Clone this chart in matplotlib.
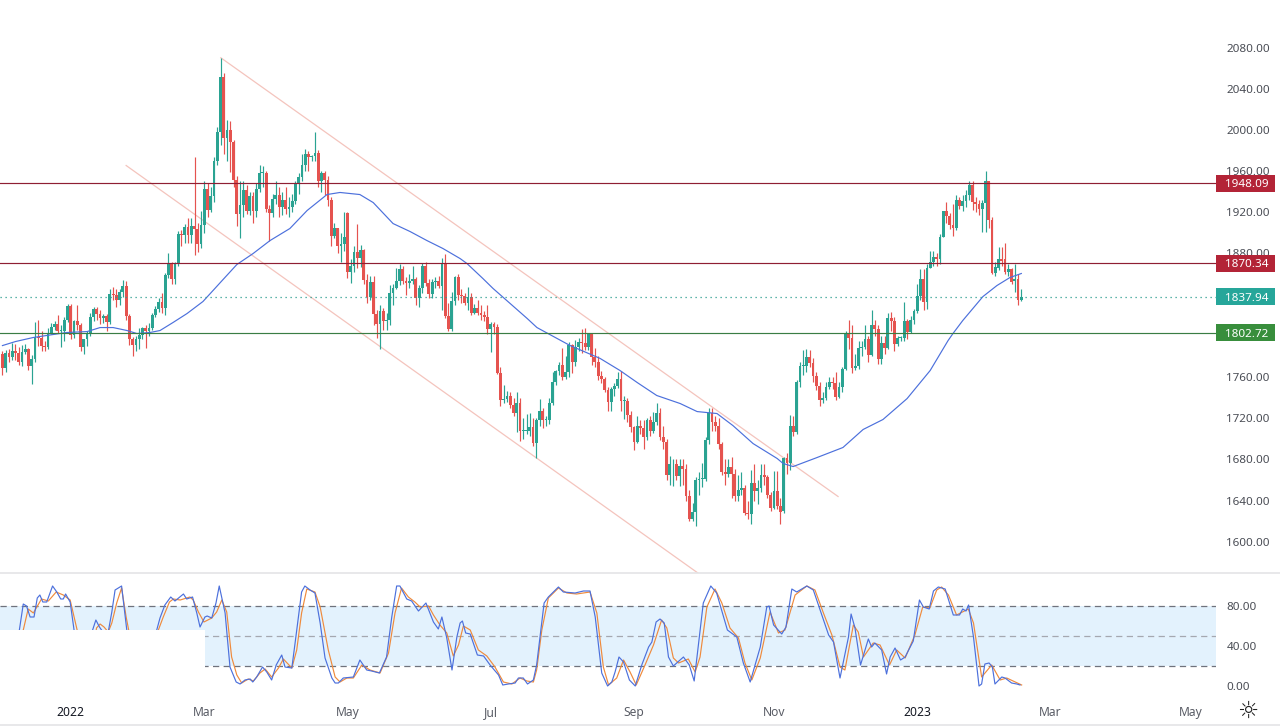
import matplotlib
matplotlib.use("Agg")
import matplotlib.pyplot as plt
from matplotlib.lines import Line2D
from matplotlib.patches import Rectangle

plt.rcParams["font.family"] = ["Noto Sans", "DejaVu Sans"]

# daily candles, Dec 2021 to Feb 2023
opens = [
    1782, 1769, 1783, 1779, 1785, 1783, 1775, 1784, 1787, 1771, 1777, 1799, 1798, 1790, 1789, 1803, 1809, 1811, 1805, 1805, 1815,
    1829, 1801, 1814, 1810, 1789, 1797, 1802, 1818, 1826, 1821, 1817, 1819, 1813, 1841, 1840, 1835, 1843, 1848, 1819, 1797, 1791,
    1797, 1801, 1808, 1805, 1808, 1820, 1826, 1833, 1827, 1859, 1870, 1855, 1870, 1899, 1898, 1906, 1898, 1907, 1904, 1889,
    1908, 1943, 1922, 1936, 1970, 1998, 2051, 1992, 2000, 1988, 1951, 1918, 1927, 1942, 1921, 1936, 1921, 1943, 1958, 1958, 1923, 1919, 1933,
    1937, 1925, 1932, 1923, 1925, 1931, 1947, 1954, 1966, 1977, 1974, 1975, 1978, 1950, 1958, 1951, 1932, 1897, 1905, 1887, 1889,
    1919, 1862, 1868, 1881, 1876, 1883, 1854, 1838, 1852, 1821, 1811, 1824, 1814, 1815, 1842, 1846, 1853, 1865, 1853, 1851, 1853, 1855,
    1837, 1846, 1868, 1851, 1841, 1852, 1853, 1848, 1871, 1819, 1807, 1834, 1857, 1840, 1839, 1832, 1838, 1822, 1827, 1822, 1820, 1818,
    1807, 1811, 1809, 1764, 1738, 1739, 1742, 1733, 1725, 1735, 1708, 1708, 1708, 1711, 1696, 1718, 1727, 1718, 1718, 1735, 1755,
    1766, 1772, 1760, 1765, 1791, 1775, 1789, 1794, 1793, 1789, 1802, 1779, 1775, 1761, 1758, 1747, 1736, 1748, 1751, 1758, 1737, 1737, 1723,
    1711, 1697, 1712, 1710, 1702, 1718, 1708, 1716, 1725, 1702, 1697, 1665, 1675, 1675, 1664, 1674, 1671, 1644, 1622, 1629, 1660, 1661,
    1661, 1699, 1725, 1716, 1712, 1695, 1668, 1666, 1673, 1666, 1644, 1650, 1652, 1628, 1627, 1657, 1649, 1652, 1665, 1663, 1645,
    1633, 1649, 1635, 1630, 1681, 1676, 1712, 1707, 1755, 1771, 1771, 1779, 1774, 1761, 1751, 1738, 1740, 1750, 1755, 1754, 1741, 1750,
    1768, 1803, 1798, 1769, 1771, 1788, 1789, 1797, 1781, 1810, 1807, 1777, 1793, 1788, 1817, 1814, 1792, 1798, 1798, 1814, 1804, 1815,
    1824, 1839, 1855, 1833, 1866, 1872, 1877, 1875, 1896, 1921, 1916, 1908, 1905, 1932, 1926, 1931, 1937, 1946, 1930, 1928, 1923,
    1929, 1950, 1912, 1861, 1866, 1875, 1875, 1862, 1865, 1853, 1855, 1835,
]
highs = [
    1785, 1786, 1787, 1793, 1792, 1789, 1791, 1792, 1788, 1781, 1813, 1815, 1805, 1795, 1808, 1812, 1814, 1820, 1810, 1818, 1831,
    1831, 1815, 1830, 1812, 1797, 1805, 1822, 1828, 1828, 1825, 1821, 1821, 1845, 1847, 1845, 1845, 1854, 1853, 1821, 1799, 1800,
    1808, 1809, 1810, 1812, 1822, 1829, 1837, 1842, 1861, 1880, 1872, 1872, 1902, 1903, 1909, 1914, 1914, 1974, 1910, 1921,
    1950, 1948, 1945, 1974, 2003, 2070, 2055, 2010, 2009, 1990, 1955, 1950, 1950, 1946, 1940, 1940, 1948, 1966, 1965, 1960, 1927, 1938, 1950,
    1945, 1940, 1945, 1935, 1938, 1950, 1958, 1977, 1981, 1979, 1976, 1998, 1980, 1960, 1960, 1955, 1935, 1910, 1905, 1900, 1920,
    1920, 1875, 1887, 1909, 1888, 1884, 1860, 1858, 1858, 1825, 1830, 1827, 1822, 1849, 1850, 1866, 1870, 1868, 1857, 1860, 1868, 1857,
    1849, 1871, 1872, 1855, 1855, 1857, 1858, 1876, 1879, 1832, 1843, 1858, 1860, 1845, 1842, 1847, 1842, 1831, 1835, 1830, 1824, 1830,
    1813, 1813, 1811, 1770, 1752, 1746, 1745, 1740, 1745, 1740, 1720, 1724, 1725, 1720, 1720, 1739, 1730, 1722, 1740, 1765, 1767,
    1775, 1788, 1780, 1794, 1792, 1796, 1798, 1807, 1808, 1802, 1802, 1788, 1780, 1766, 1760, 1750, 1750, 1754, 1765, 1766, 1742, 1740, 1727,
    1712, 1722, 1718, 1718, 1720, 1722, 1726, 1735, 1730, 1712, 1700, 1683, 1680, 1680, 1680, 1680, 1675, 1650, 1638, 1663, 1668, 1676,
    1702, 1730, 1730, 1722, 1720, 1697, 1680, 1680, 1682, 1671, 1665, 1668, 1655, 1640, 1670, 1675, 1660, 1675, 1675, 1665, 1648,
    1669, 1669, 1642, 1682, 1686, 1723, 1722, 1757, 1775, 1786, 1787, 1786, 1778, 1765, 1755, 1745, 1755, 1760, 1760, 1765, 1755, 1770,
    1805, 1815, 1810, 1782, 1795, 1795, 1810, 1800, 1825, 1815, 1810, 1800, 1800, 1822, 1823, 1818, 1800, 1800, 1833, 1816, 1819, 1826,
    1850, 1865, 1865, 1870, 1882, 1882, 1880, 1899, 1921, 1930, 1919, 1928, 1937, 1935, 1937, 1942, 1950, 1950, 1935, 1932, 1932,
    1960, 1950, 1915, 1872, 1886, 1886, 1890, 1870, 1866, 1870, 1860, 1845,
]
lows = [
    1762, 1765, 1775, 1776, 1776, 1772, 1771, 1782, 1767, 1753, 1775, 1790, 1785, 1785, 1787, 1802, 1806, 1803, 1789, 1795, 1813,
    1797, 1798, 1806, 1785, 1782, 1790, 1800, 1814, 1815, 1811, 1812, 1805, 1811, 1835, 1828, 1830, 1838, 1815, 1791, 1780, 1785,
    1787, 1797, 1788, 1800, 1806, 1818, 1823, 1822, 1820, 1856, 1850, 1850, 1868, 1887, 1890, 1890, 1890, 1878, 1881, 1885,
    1900, 1915, 1920, 1930, 1966, 1985, 1977, 1970, 1959, 1945, 1907, 1895, 1915, 1918, 1917, 1910, 1915, 1940, 1945, 1920, 1892, 1915, 1928,
    1915, 1917, 1918, 1915, 1920, 1928, 1938, 1950, 1960, 1960, 1970, 1970, 1945, 1940, 1937, 1926, 1887, 1895, 1880, 1872, 1882,
    1856, 1851, 1862, 1866, 1867, 1850, 1832, 1835, 1810, 1798, 1787, 1806, 1806, 1810, 1830, 1845, 1849, 1850, 1840, 1846, 1850, 1830,
    1828, 1842, 1848, 1837, 1837, 1846, 1846, 1825, 1817, 1805, 1805, 1830, 1835, 1832, 1830, 1825, 1820, 1821, 1820, 1815, 1814, 1802,
    1784, 1802, 1763, 1732, 1735, 1736, 1730, 1722, 1707, 1698, 1700, 1705, 1703, 1693, 1681, 1712, 1710, 1712, 1714, 1733, 1752,
    1762, 1757, 1758, 1760, 1764, 1771, 1785, 1783, 1786, 1786, 1772, 1770, 1757, 1754, 1745, 1727, 1727, 1742, 1749, 1727, 1719, 1716, 1707,
    1689, 1696, 1705, 1690, 1699, 1703, 1706, 1713, 1699, 1690, 1660, 1655, 1654, 1660, 1654, 1655, 1640, 1620, 1620, 1615, 1645, 1653,
    1659, 1695, 1708, 1708, 1690, 1665, 1655, 1663, 1642, 1640, 1640, 1645, 1626, 1622, 1617, 1640, 1637, 1648, 1655, 1642, 1630,
    1632, 1632, 1617, 1628, 1666, 1670, 1703, 1705, 1750, 1762, 1765, 1770, 1755, 1747, 1732, 1735, 1738, 1748, 1748, 1738, 1740, 1745,
    1767, 1787, 1764, 1767, 1768, 1780, 1787, 1775, 1780, 1800, 1773, 1773, 1782, 1787, 1805, 1785, 1790, 1795, 1795, 1797, 1803, 1811,
    1822, 1835, 1825, 1826, 1866, 1868, 1868, 1870, 1896, 1910, 1904, 1897, 1903, 1923, 1921, 1925, 1932, 1922, 1920, 1917, 1901,
    1901, 1905, 1860, 1858, 1864, 1868, 1860, 1858, 1850, 1843, 1830, 1834,
]
closes = [
    1769, 1783, 1779, 1785, 1783, 1775, 1784, 1787, 1771, 1777, 1799, 1798, 1790, 1789, 1803, 1809, 1811, 1805, 1805, 1815, 1829,
    1801, 1814, 1810, 1789, 1797, 1802, 1818, 1826, 1821, 1817, 1819, 1813, 1841, 1840, 1835, 1843, 1848, 1819, 1797, 1791, 1797,
    1801, 1808, 1805, 1808, 1820, 1826, 1833, 1827, 1859, 1870, 1855, 1870, 1899, 1898, 1906, 1898, 1907, 1904, 1889, 1908,
    1943, 1922, 1936, 1970, 1998, 2051, 1992, 2000, 1988, 1951, 1918, 1927, 1942, 1921, 1936, 1921, 1943, 1958, 1958, 1923, 1919, 1933, 1937,
    1925, 1932, 1923, 1925, 1931, 1947, 1954, 1966, 1977, 1974, 1975, 1978, 1950, 1958, 1951, 1932, 1897, 1905, 1887, 1889, 1896,
    1862, 1868, 1881, 1876, 1883, 1854, 1838, 1852, 1821, 1811, 1824, 1814, 1815, 1842, 1846, 1853, 1865, 1853, 1851, 1853, 1855, 1837,
    1846, 1868, 1851, 1841, 1852, 1853, 1848, 1871, 1819, 1807, 1834, 1857, 1840, 1839, 1832, 1838, 1822, 1827, 1822, 1820, 1818, 1807,
    1811, 1809, 1764, 1738, 1739, 1742, 1733, 1725, 1735, 1708, 1708, 1708, 1711, 1696, 1718, 1727, 1718, 1718, 1735, 1755, 1766,
    1772, 1760, 1765, 1791, 1775, 1789, 1794, 1793, 1789, 1802, 1779, 1775, 1761, 1758, 1747, 1736, 1748, 1751, 1758, 1737, 1737, 1723, 1711,
    1697, 1712, 1710, 1702, 1718, 1708, 1716, 1725, 1702, 1697, 1665, 1675, 1675, 1664, 1674, 1671, 1644, 1622, 1629, 1660, 1661, 1661,
    1699, 1725, 1716, 1712, 1695, 1668, 1666, 1673, 1666, 1644, 1650, 1652, 1628, 1627, 1657, 1649, 1652, 1665, 1663, 1645, 1633,
    1649, 1635, 1629, 1681, 1676, 1712, 1707, 1755, 1771, 1771, 1779, 1774, 1761, 1751, 1738, 1740, 1750, 1755, 1754, 1741, 1750, 1768,
    1803, 1798, 1769, 1771, 1788, 1789, 1797, 1781, 1810, 1807, 1777, 1793, 1788, 1817, 1814, 1792, 1798, 1798, 1814, 1804, 1815, 1824,
    1839, 1855, 1833, 1866, 1872, 1877, 1875, 1896, 1921, 1916, 1908, 1905, 1932, 1926, 1931, 1937, 1946, 1930, 1928, 1923, 1929,
    1950, 1912, 1861, 1867, 1875, 1873, 1862, 1865, 1852, 1855, 1835, 1837.94,
]

# moving average, read at its bends
ma_bars = [0, 4, 9.4, 15.5, 19.8, 26, 30, 34, 38.3, 41.3, 45.3, 48.4, 52.4, 56.7, 61.6, 64.7, 67.5, 72, 77, 82.2,
           88.3, 93.6, 99.7, 103.7, 109.8, 113.9, 120, 125.2, 130.4, 135.3, 140.6, 142.7, 147.6, 150.7, 161.2, 164.2,
           174.4, 183.6, 189.7, 195, 201, 208.2, 213.4, 219.5, 224.4, 230.6, 238, 239.8, 242.9, 250.2, 258.2, 264.4,
           270.5, 277.9, 285, 290.5, 292, 295, 301.2, 305.5, 309.5, 313]
ma_values = [1790.5, 1794.4, 1798.3, 1801.2, 1803.2, 1804.1, 1808, 1808, 1805.1, 1802.2, 1803.2, 1805.1, 1812.9, 1821.6, 1833.3, 1844, 1853.7, 1869.2, 1879.9, 1892.5,
             1904.2, 1921.7, 1937.2, 1939.2, 1937.2, 1929.4, 1909, 1901.3, 1892.5, 1884.8, 1875, 1870.2, 1855.6, 1846, 1816.8, 1808,
             1790.5, 1778, 1766.3, 1754.6, 1742, 1734.2, 1726.4, 1724.5, 1712.8, 1695.3, 1680.8, 1676, 1673, 1681.7, 1691.5, 1709,
             1718.7, 1739, 1766.3, 1795.4, 1802.2, 1814.8, 1838.1, 1848.8, 1856.6, 1860.5]

# stochastic %K and %D, read at their bends
k_bars = [0, 5.2, 6.4, 7.4, 8.5, 9.7, 10.7, 11.5, 12.4, 13.6, 15.4, 16.7, 17.9, 18.7, 19.4, 20.8, 22, 23.3, 26.9, 27.7,
          28.7, 29.8, 31.5, 32.5, 33.6, 34.6, 36.6, 38.2, 39.7, 45.3, 47.4, 48.4, 49.9, 51.7, 53, 55.6, 56.6, 58.4, 59.7, 60.7,
          62.2, 62.9, 64.3, 65.6, 66.6, 68.4, 69.9, 71.8, 73, 74.5, 76.1, 76.9, 78.1, 79.9, 81.2, 82.7, 84.1, 85.8, 86.8, 88.9,
          89.9, 91.9, 92.9, 94.5, 96, 97.6, 99.1, 101.2, 102.2, 103.2, 104.7, 107.8, 109.8, 111.9, 113.4, 115.8, 118, 119.6, 121.1, 122.1,
          124.2, 125.7, 127.8, 130.1, 132.4, 133.9, 135, 136.5, 138.1, 139.6, 140.6, 141.3, 142.3, 143.7, 145.9, 147.8, 149.8, 152.4, 153.7, 155.4,
          157.5, 158.5, 160, 161.3, 163.1, 164.1, 166.4, 167.7, 170.8, 172.3, 175.9, 178.5, 180.5, 182.1, 184.1, 185.9, 187.2, 188.2, 189.4, 190.8,
          192.6, 194.4, 196.4, 198.5, 199.5, 200.8, 202, 203.3, 204.6, 206.1, 209.2, 211, 212.5, 215.3, 217.6, 219.4, 222.7, 225.6, 227.6, 229.7,
          232.8, 234.8, 235.5, 236.9, 239.4, 240.7, 242.5, 244, 247.1, 249.1, 251.2, 253.8, 255.3, 257.3, 259.9, 260.7, 261.9, 263.6, 266, 267,
          268, 270.1, 271.6, 272.7, 274.2, 275.9, 277.3, 279.8, 281.7, 282.9, 284.7, 286, 287.5, 289.6, 292.1, 294, 295, 296, 296.8, 298.3,
          300, 300.8, 301.8, 303.1, 304.1, 304.9, 307, 308, 310, 311.6, 312.6]
k_values = [29, 56, 82, 80, 69, 69, 88, 91, 84, 84, 100, 94, 87, 87, 92, 84, 56, 29, 29, 56,
            66, 59, 51, 54, 74, 96, 100, 56, 19, 19, 56, 68, 81, 89, 85, 92, 87, 89, 73, 59,
            69, 70, 68, 83, 100, 73, 19, 4, 2, 6, 7, 4, 9, 19, 14, 6, 21, 31, 19, 18,
            43, 94, 100, 96, 93, 63, 28, 8, 3, 3, 8, 9, 26, 16, 15, 13, 29, 69, 100, 100,
            87, 85, 75, 83, 64, 57, 69, 48, 16, 49, 63, 65, 53, 52, 31, 30, 21, 11, 1, 2,
            3, 8, 8, 2, 6, 21, 83, 89, 99, 94, 93, 95, 95, 69, 13, 0, 4, 14, 29, 24,
            6, 0, 21, 39, 44, 64, 67, 63, 29, 20, 29, 21, 5, 83, 100, 93, 56, 49, 23, 4,
            39, 79, 80, 61, 52, 59, 97, 94, 100, 96, 76, 51, 44, 8, 49, 72, 58, 21, 47, 39,
            43, 36, 12, 29, 38, 26, 29, 45, 86, 79, 77, 95, 99, 97, 71, 71, 77, 75, 81, 49,
            0, 2, 22, 23, 19, 2, 9, 8, 3, 2, 1]
d_bars = [0, 6.4, 7.9, 9.5, 12, 14.1, 16.5, 18.7, 20.8, 22, 23.3, 24.9, 27.9, 28.9, 30, 31.2, 32.5, 33.6, 35.1, 36.6,
          38, 39.2, 40.2, 46.4, 47.9, 49.4, 51.3, 52.5, 54.6, 57.6, 58.6, 60.2, 61.9, 64.3, 65.8, 67.4, 68.9, 70.4, 72, 73.5,
          75.5, 77.1, 79.1, 80.7, 82.7, 84.8, 86.3, 88.9, 90.4, 91.9, 93.5, 96, 97.6, 100.1, 102.2, 103.7, 105.8, 107.8, 110.4, 112.9,
          116, 118.6, 120.6, 122.6, 124.7, 126.7, 128.3, 130.9, 132.4, 134.4, 136.5, 138.5, 140.1, 141.6, 143.7, 146.2, 148.8, 151.3, 153.9, 156.5,
          159, 161.1, 163.1, 164.1, 165.7, 167.7, 170.8, 173.4, 176.4, 180.5, 182.6, 184.6, 186.2, 188.7, 190.8, 192.8, 194.7, 197.4, 200, 202.5,
          204.1, 206.1, 207.7, 210.7, 212.8, 214.3, 216.4, 218.9, 221, 223.5, 226.1, 228.1, 230.2, 232.8, 235.8, 238.4, 240.4, 243.5, 247.1, 249.6,
          252.2, 254.8, 257.3, 258.8, 261.4, 262.9, 264.5, 267.5, 269.6, 272.5, 274.7, 277.3, 280.3, 282.7, 284.9, 287, 288.5, 290.6, 293.1, 296.7,
          298.3, 300.8, 303.9, 306.5, 308.5, 313.1]
d_values = [29, 56, 77, 73, 87, 85, 94, 91, 86, 69, 51, 29, 36, 58, 62, 59, 54, 63, 83, 98,
            69, 49, 19, 19, 56, 69, 84, 87, 86, 89, 86, 74, 64, 68, 74, 86, 74, 29, 11, 3,
            7, 5, 13, 17, 9, 18, 27, 18, 36, 73, 97, 94, 79, 36, 9, 4, 8, 8, 21, 16,
            13, 33, 73, 98, 89, 84, 79, 80, 71, 61, 53, 30, 41, 60, 56, 36, 30, 19, 4, 2,
            8, 5, 4, 16, 56, 88, 98, 93, 92, 94, 73, 19, 1, 8, 26, 14, 1, 21, 41, 66,
            58, 28, 23, 27, 14, 29, 79, 97, 83, 58, 48, 23, 6, 28, 74, 53, 56, 91, 100, 96,
            73, 51, 19, 16, 61, 54, 29, 43, 41, 21, 36, 28, 51, 79, 78, 96, 99, 91, 71, 77,
            63, 9, 21, 6, 8, 1]

resistance_levels = [1948.09, 1870.34]
support_level = 1802.72
last_price = 1837.94
# 1800 and 1840 sit under the tags in the reference and do not show
price_ticks = [1600, 1640, 1680, 1720, 1760, 1880, 1920, 1960, 2000, 2040, 2080]
stoch_ticks = [0, 40, 80]
date_bars = [21, 62, 106, 150, 194, 237, 281, 322, 365]
date_labels = ["2022", "Mar", "May", "Jul", "Sep", "Nov", "2023", "Mar", "May"]

# channel lines as bar, price
upper_channel_bars = [67.1, 256.7]
upper_channel_prices = [2070, 1643.9]
lower_channel_bars = [38, 214.3]
lower_channel_prices = [1965.4, 1568.1]

UP = "#2aa392"
DOWN = "#e5534f"
DARK_RED = "#8f1f33"
TICK = "#4a4d55"
YLIM = (1569.6, 2126.15)

fig = plt.figure(figsize=(12.8, 7.28), dpi=100, facecolor="white")
ax = fig.add_axes([0, 155 / 728, 1216 / 1280, 573 / 728])
osc = fig.add_axes([0, 36 / 728, 1216 / 1280, 118 / 728])
tags = fig.add_axes([1216 / 1280, 155 / 728, 64 / 1280, 573 / 728], zorder=5)

# candles
bars = list(range(len(closes)))
colors = [UP if c >= o else DOWN for o, c in zip(opens, closes)]
ax.vlines(bars, lows, highs, colors=colors, linewidth=0.85, zorder=2)
ax.bar(bars, [max(abs(c - o), 0.8) for o, c in zip(opens, closes)],
       bottom=[min(o, c) for o, c in zip(opens, closes)], width=0.86, color=colors, linewidth=0, zorder=2)

ax.plot(upper_channel_bars, upper_channel_prices, color="#f4c4bd", lw=0.9, zorder=1)
ax.plot(lower_channel_bars, lower_channel_prices, color="#f4c4bd", lw=0.9, zorder=1)
ax.plot(ma_bars, ma_values, color="#4c70dc", lw=0.85, zorder=3)

for level in resistance_levels:
    ax.axhline(level, color=DARK_RED, lw=0.85, zorder=3)
ax.axhline(support_level, color="#3a7d44", lw=0.85, zorder=3)
ax.axhline(last_price, color="#2a9d8f", lw=0.9, ls=(0, (1, 3)), zorder=3)

ax.set_xlim(-0.75, 372.8)
ax.set_ylim(*YLIM)
ax.set_xticks([])
ax.yaxis.tick_right()
ax.set_yticks(price_ticks)
ax.set_yticklabels([f"{t:.2f}" for t in price_ticks], fontsize=8.4, color=TICK)
ax.tick_params(axis="y", length=0, pad=7.5)
for side in ax.spines.values():
    side.set_visible(False)

# price tags on the right
tag_values = resistance_levels + [last_price, support_level]
tag_colors = ["#b32437", "#b32437", "#26a69a", "#388e3c"]
tags.patch.set_visible(False)
tags.set_xlim(0, 64)
tags.set_ylim(*YLIM)
tags.axis("off")
tags.barh(tag_values, 59, height=16.5, left=0, color=tag_colors, linewidth=0)
for value in tag_values:
    tags.text(30.5, value, f"{value:.2f}", ha="center", va="center_baseline",
              fontsize=8.4, fontweight="bold", color="white")

# stochastic panel
osc.fill_between([62.2, 372.8], 20, 80, color="#e3f2fd", lw=0, zorder=0)
osc.fill_between([-0.75, 62.2], 56, 80, color="#e3f2fd", lw=0, zorder=0)
osc.axhline(80, color="#6f727c", lw=0.9, ls=(0, (5, 3.5)), zorder=1)
osc.axhline(50, color="#a5a8b0", lw=0.9, ls=(0, (5, 3.5)), zorder=1)
osc.axhline(20, color="#6f727c", lw=0.9, ls=(0, (5, 3.5)), zorder=1)
osc.plot(d_bars, d_values, color="#ef8a3c", lw=0.85, zorder=2)
osc.plot(k_bars, k_values, color="#4c70dc", lw=0.85, zorder=2)
# the lower left of the band is blanked out in the reference
osc.add_patch(Rectangle((-0.75, -6), 62.95, 62, fc="white", ec="none", zorder=3))

osc.set_xlim(-0.75, 372.8)
osc.set_ylim(-6, 112)
osc.yaxis.tick_right()
osc.set_yticks(stoch_ticks)
osc.set_yticklabels([f"{t:.2f}" for t in stoch_ticks], fontsize=8.4, color=TICK)
osc.tick_params(axis="y", length=0, pad=7.5)
osc.set_xticks(date_bars)
osc.set_xticklabels(date_labels, fontsize=8.7, color="#5a5d66")
osc.tick_params(axis="x", length=0, pad=9.8)
for label in osc.get_xticklabels():
    if label.get_text().isdigit():
        label.set_color("#131722")
        label.set_fontweight("bold")
for side in osc.spines.values():
    side.set_visible(False)

# panel separators
for y in [573, 724.5]:
    fig.add_artist(Line2D([0, 1], [1 - y / 728, 1 - y / 728], color="#e4e4e6", lw=1.2))

fig.text(1248 / 1280, 1 - 711 / 728, "\u263c", fontsize=17, color="#222222", ha="center", va="center",
         family="DejaVu Sans")

fig.savefig("out.png", dpi=100)
